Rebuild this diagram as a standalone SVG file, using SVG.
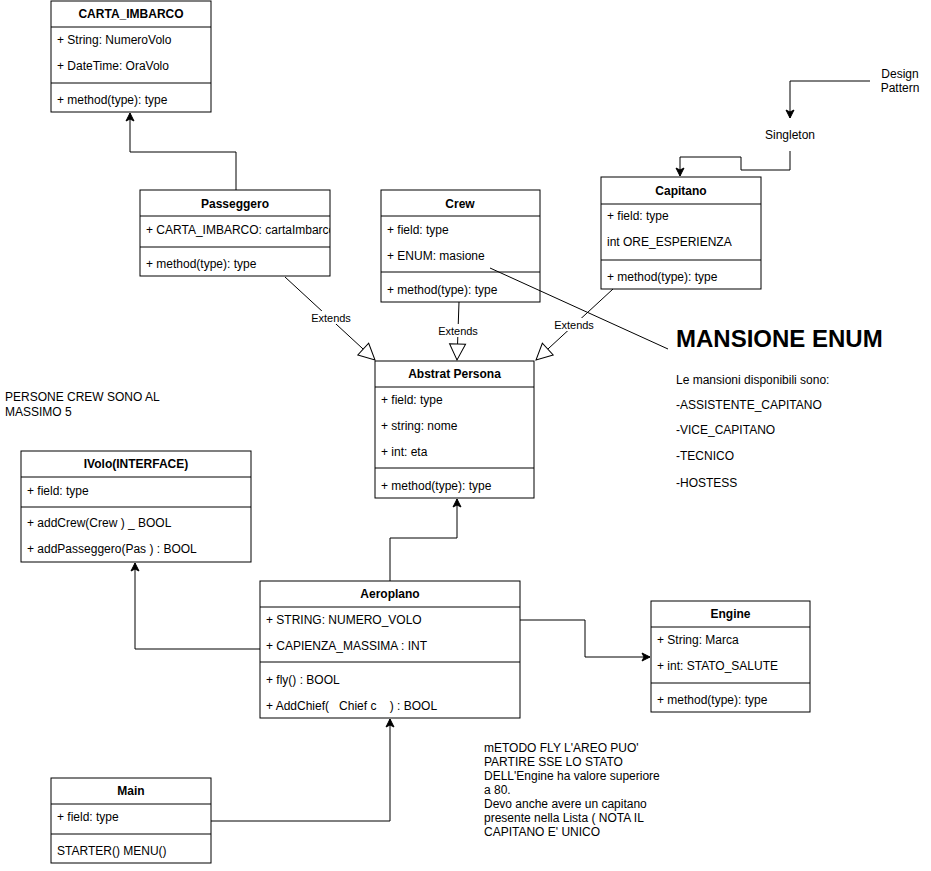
<svg xmlns="http://www.w3.org/2000/svg" width="931" height="871" viewBox="0 0 931 871">
<style>
.box{fill:#fff;stroke:#000;stroke-width:1}
.ln{stroke:#000;stroke-width:1;fill:none}
text{font-family:"Liberation Sans",Arial,Helvetica,sans-serif;font-size:12px;fill:#000}
.t{font-weight:bold;text-anchor:middle}
.lbl{font-size:11px;text-anchor:middle}
.c{text-anchor:middle}
</style>
<defs>
<marker id="arr" markerUnits="userSpaceOnUse" markerWidth="10" markerHeight="10" refX="8" refY="4" orient="auto" overflow="visible">
<path d="M0,0 L8,4 L0,8 L2,4 Z" fill="#000" stroke="#000" stroke-width="1"/>
</marker>
<marker id="tri" markerUnits="userSpaceOnUse" markerWidth="20" markerHeight="20" refX="17" refY="9" orient="auto" overflow="visible">
<path d="M1,1 L17,9 L1,17 Z" fill="#fff" stroke="#000" stroke-width="1"/>
</marker>
<clipPath id="clipP"><rect x="140" y="216" width="190" height="31"/></clipPath>
</defs>

<g id="carta_imbarco">
<rect class="box" x="51" y="1" width="160" height="111"/>
<line class="ln" x1="51" y1="27" x2="211" y2="27"/>
<line class="ln" x1="51" y1="83" x2="211" y2="83"/>
<text class="t" x="131" y="18">CARTA_IMBARCO</text>
<text x="57" y="44">+ String: NumeroVolo</text>
<text x="57" y="70">+ DateTime: OraVolo</text>
<text x="57" y="104">+ method(type): type</text>
</g>

<g id="passeggero">
<rect class="box" x="140" y="190" width="190" height="86"/>
<line class="ln" x1="140" y1="216" x2="330" y2="216"/>
<line class="ln" x1="140" y1="247" x2="330" y2="247"/>
<text class="t" x="235" y="208">Passeggero</text>
<text x="146" y="234" clip-path="url(#clipP)">+ CARTA_IMBARCO: cartaImbarco</text>
<text x="146" y="268">+ method(type): type</text>
</g>

<g id="crew">
<rect class="box" x="381" y="190" width="159" height="112"/>
<line class="ln" x1="381" y1="216" x2="540" y2="216"/>
<line class="ln" x1="381" y1="272" x2="540" y2="272"/>
<text class="t" x="460" y="208">Crew</text>
<text x="387" y="234">+ field: type</text>
<text x="387" y="260">+ ENUM: masione</text>
<text x="387" y="294">+ method(type): type</text>
</g>

<g id="capitano">
<rect class="box" x="601" y="177" width="160" height="112"/>
<line class="ln" x1="601" y1="204" x2="761" y2="204"/>
<line class="ln" x1="601" y1="260" x2="761" y2="260"/>
<text class="t" x="681" y="195">Capitano</text>
<text x="607" y="220">+ field: type</text>
<text x="607" y="246">int ORE_ESPERIENZA</text>
<text x="607" y="281">+ method(type): type</text>
</g>

<g id="design_pattern">
<text class="c" x="900" y="78">Design</text>
<text class="c" x="900" y="92">Pattern</text>
</g>

<g id="singleton">
<text class="c" x="790" y="139">Singleton</text>
</g>

<g id="abstrat_persona">
<rect class="box" x="375" y="361" width="159" height="137"/>
<line class="ln" x1="375" y1="387" x2="534" y2="387"/>
<line class="ln" x1="375" y1="468" x2="534" y2="468"/>
<text class="t" x="454.5" y="378">Abstrat Persona</text>
<text x="381" y="404">+ field: type</text>
<text x="381" y="430">+ string: nome</text>
<text x="381" y="456">+ int: eta</text>
<text x="381" y="490">+ method(type): type</text>
</g>

<g id="mansione_enum">
<text x="676" y="347" style="font-size:24px;font-weight:bold">MANSIONE ENUM</text>
<text x="676" y="384">Le mansioni disponibili sono:</text>
<text x="676" y="409">-ASSISTENTE_CAPITANO</text>
<text x="676" y="434">-VICE_CAPITANO</text>
<text x="676" y="460">-TECNICO</text>
<text x="676" y="487">-HOSTESS</text>
</g>

<g id="persone_note">
<text x="5" y="401">PERSONE CREW SONO AL</text>
<text x="5" y="416">MASSIMO 5</text>
</g>

<g id="ivolo">
<rect class="box" x="21" y="451" width="230" height="111"/>
<line class="ln" x1="21" y1="477" x2="251" y2="477"/>
<line class="ln" x1="21" y1="507" x2="251" y2="507"/>
<text class="t" x="136" y="468">IVolo(INTERFACE)</text>
<text x="27" y="495">+ field: type</text>
<text x="27" y="527">+ addCrew(Crew ) _ BOOL</text>
<text x="27" y="553">+ addPasseggero(Pas ) : BOOL</text>
</g>

<g id="aeroplano">
<rect class="box" x="260" y="581" width="260" height="137"/>
<line class="ln" x1="260" y1="607" x2="520" y2="607"/>
<line class="ln" x1="260" y1="662" x2="520" y2="662"/>
<text class="t" x="390" y="598">Aeroplano</text>
<text x="266" y="624">+ STRING: NUMERO_VOLO</text>
<text x="266" y="650">+ CAPIENZA_MASSIMA : INT</text>
<text x="266" y="684">+ fly() : BOOL</text>
<text x="266" y="710" xml:space="preserve">+ AddChief(   Chief c    ) : BOOL</text>
</g>

<g id="engine">
<rect class="box" x="651" y="601" width="159" height="111"/>
<line class="ln" x1="651" y1="627" x2="810" y2="627"/>
<line class="ln" x1="651" y1="683" x2="810" y2="683"/>
<text class="t" x="730.5" y="618">Engine</text>
<text x="657" y="644">+ String: Marca</text>
<text x="657" y="670">+ int: STATO_SALUTE</text>
<text x="657" y="704">+ method(type): type</text>
</g>

<g id="main">
<rect class="box" x="51" y="778" width="160" height="85"/>
<line class="ln" x1="51" y1="804" x2="211" y2="804"/>
<line class="ln" x1="51" y1="834" x2="211" y2="834"/>
<text class="t" x="131" y="795">Main</text>
<text x="57" y="821">+ field: type</text>
<text x="57" y="855">STARTER() MENU()</text>
</g>

<g id="fly_note">
<text x="484" y="752">mETODO FLY L'AREO PUO'</text>
<text x="484" y="766">PARTIRE SSE LO STATO</text>
<text x="484" y="780">DELL'Engine ha valore superiore</text>
<text x="484" y="794">a 80.</text>
<text x="484" y="808">Devo anche avere un capitano</text>
<text x="484" y="822">presente nella Lista ( NOTA IL</text>
<text x="484" y="836">CAPITANO E' UNICO</text>
</g>

<g id="connectors">
<path class="ln" d="M236,190 V152 H130 V113" marker-end="url(#arr)"/>
<path class="ln" d="M285,277 L375,360" marker-end="url(#tri)"/>
<path class="ln" d="M459,302 L457,360" marker-end="url(#tri)"/>
<path class="ln" d="M613,289 L536,360" marker-end="url(#tri)"/>
<path class="ln" d="M490,268 L668,349"/>
<path class="ln" d="M870,81 H790 V118" marker-end="url(#arr)"/>
<path class="ln" d="M790,151 V170 H741 V157 H680 V176" marker-end="url(#arr)"/>
<path class="ln" d="M390,581 V538 H457 V499" marker-end="url(#arr)"/>
<path class="ln" d="M260,649 H135 V563" marker-end="url(#arr)"/>
<path class="ln" d="M520,620 H585 V657 H650" marker-end="url(#arr)"/>
<path class="ln" d="M211,821 H390 V719" marker-end="url(#arr)"/>
<rect x="311" y="311" width="40" height="13" fill="#fff"/>
<text class="lbl" x="331" y="322">Extends</text>
<rect x="438" y="324" width="40" height="13" fill="#fff"/>
<text class="lbl" x="458" y="335">Extends</text>
<rect x="554" y="318" width="40" height="13" fill="#fff"/>
<text class="lbl" x="574" y="329">Extends</text>
</g>
</svg>
